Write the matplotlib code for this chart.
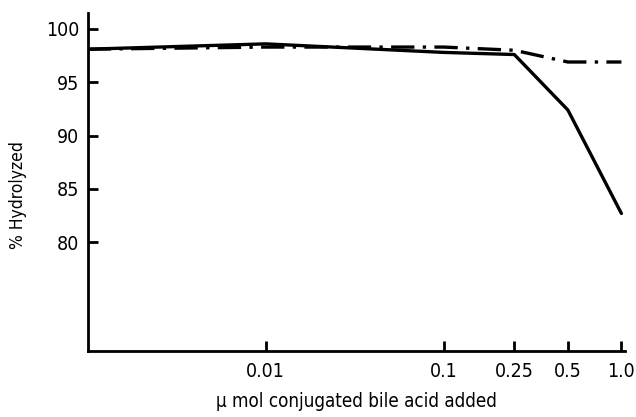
import matplotlib
matplotlib.use("Agg")
import matplotlib.pyplot as plt

plt.rcParams['font.family'] = ['DejaVu Sans']
plt.rcParams['font.stretch'] = 'condensed'

# data
conc = [0.001, 0.01, 0.1, 0.25, 0.5, 1.0]
solid_vals = [98.1, 98.6, 97.8, 97.6, 92.4, 82.7]
dash_vals = [98.1, 98.3, 98.3, 98.0, 96.9, 96.9]
xticks = [0.01, 0.1, 0.25, 0.5, 1.0]
xticklabels = ['0.01', '0.1', '0.25', '0.5', '1.0']
yticks = [80, 85, 90, 95, 100]

fig = plt.figure(figsize=(6.36, 4.17), dpi=100)
ax = fig.add_axes([0.138, 0.158, 0.845, 0.811])
ax.plot(conc, solid_vals, color='black', lw=2.4, solid_capstyle='round')
ax.plot(conc, dash_vals, color='black', lw=2.4, linestyle=(0, (7, 2.5, 1, 2.5)))
ax.set_xscale('log')
ax.set_xlim(0.001, 1.05)
ax.set_ylim(69.8, 101.5)
ax.set_xticks(xticks)
ax.set_xticklabels(xticklabels)
ax.xaxis.set_minor_locator(matplotlib.ticker.NullLocator())
ax.set_yticks(yticks)
for s in ['top', 'right']:
    ax.spines[s].set_visible(False)
for s in ['left', 'bottom']:
    ax.spines[s].set_linewidth(2)
ax.tick_params(axis='both', direction='in', length=7, width=2, labelsize=14)
ax.tick_params(axis='x', pad=8)
ax.tick_params(axis='y', pad=6)
ax.set_ylabel('% Hydrolyzed', fontsize=12.5)
ax.set_xlabel('μ mol conjugated bile acid added', fontsize=13.5)
ax.yaxis.set_label_coords(-0.114, 0.46)
ax.xaxis.set_label_coords(0.5, -0.122)
fig.savefig('out.png', dpi=100)
